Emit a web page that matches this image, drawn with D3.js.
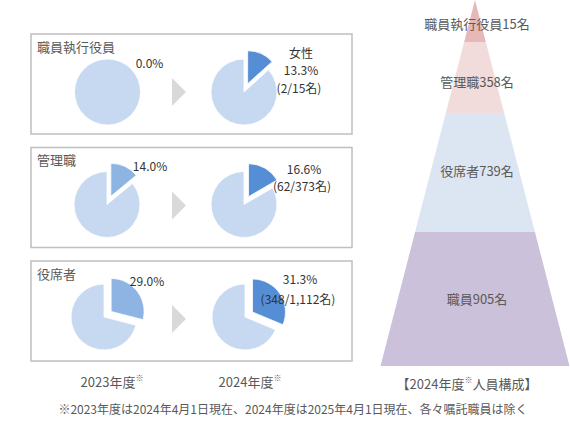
<!DOCTYPE html>
<html><head><meta charset="utf-8">
<script src="https://cdn.jsdelivr.net/npm/d3@7"></script>
<style>
html,body{margin:0;padding:0;background:#fff;}
svg{display:block;font-family:"Noto Sans CJK JP","Noto Sans",sans-serif;}
</style></head>
<body>
<svg id="chart" width="570" height="422"></svg>
<script>
// ---- data ----
const categories = ["職員執行役員", "管理職", "役席者"];
const years = ["2023年度", "2024年度"];
const share2023 = [0.0, 14.0, 29.0];
const share2024 = [13.3, 16.6, 31.3];
const women2024 = [2, 62, 348];
const total2024 = [15, 373, 1112];
const pyramidLabels = ["職員執行役員", "管理職", "役席者", "職員"];
const pyramidCounts = [15, 358, 739, 905];
const footnote = "※2023年度は2024年4月1日現在、2024年度は2025年4月1日現在、各々嘱託職員は除く";
const pyramidTitle = "【2024年度※人員構成】";

// ---- layout ----
const svg = d3.select("#chart");
const textCol = "#595959";
const mainCol = "#c6d9f1";
const sliceCol = ["#8eb4e3", "#558ed5"];
const layerCol = ["#e6b9b8", "#f2dcdb", "#dce6f2", "#ccc1da"];

const rowY = d3.scaleBand().domain(categories).range([34, 34 + 3 * 113.5 - 13.5]).paddingInner(13.5 / 113.5);
const colX = d3.scalePoint().domain(years).range([106, 244]);
const R = 33, explode = 9;
const pieCY = [58, 57, 56];          // pie centre offset within each box
const pieDX = [[1.5, 0], [1, 0], [-2, 1]];

// label offsets relative to pie centre
const lab2023 = [[42, -30], [43, -39], [43, -37]];
const lab2024 = [[57, [-23, -5]], [60, [-36, -19]], [55, [-39, -19]]];

const pie = d3.pie().sort(null).value(d => d);
const arc = d3.arc().innerRadius(0).outerRadius(R);
const fmt = d3.format(".1f");
const fmtN = d3.format(",");

categories.forEach((cat, i) => {
  const top = rowY(cat), h = rowY.bandwidth();
  const g = svg.append("g");
  g.append("rect").attr("x", 31).attr("y", top).attr("width", 321).attr("height", h)
    .attr("fill", "#fff").attr("stroke", "#bfbfbf").attr("stroke-width", 1.5);
  g.append("text").attr("x", 37).attr("y", top + 12).attr("dominant-baseline", "central")
    .attr("font-size", 13).attr("fill", textCol).text(cat);

  // arrow
  const ay = top + 58, ax = 172;
  g.append("path").attr("d", `M${ax},${ay - 14}L${ax + 14},${ay}L${ax},${ay + 14}Z`).attr("fill", "#d9d9d9");

  [share2023[i], share2024[i]].forEach((s, j) => {
    const cx = colX(years[j]) + pieDX[i][j], cy = top + pieCY[i];
    const pg = g.append("g").attr("transform", `translate(${cx},${cy})`);
    const arcs = pie([s, 100 - s]);
    arcs.forEach((a, k) => {
      if (a.endAngle - a.startAngle <= 0) return;
      let tx = 0, ty = 0;
      if (k === 0) {
        const m = (a.startAngle + a.endAngle) / 2;
        tx = Math.sin(m) * explode; ty = -Math.cos(m) * explode;
      }
      pg.append("path").attr("d", arc(a)).attr("transform", `translate(${tx},${ty})`)
        .attr("fill", k === 0 ? sliceCol[j] : mainCol)
        .attr("stroke", "#fff").attr("stroke-width", 0.8);
    });
    if (j === 0) {
      g.append("text").attr("x", cx + lab2023[i][0]).attr("y", cy + lab2023[i][1])
        .attr("text-anchor", "middle").attr("dominant-baseline", "central")
        .attr("font-size", 12).attr("fill", "#333").text(fmt(s) + "%");
    } else {
      const lx = cx + lab2024[i][0];
      const [d1, d2] = lab2024[i][1];
      if (i === 0) {
        g.append("text").attr("x", lx).attr("y", cy + d1 - 17).attr("text-anchor", "middle")
          .attr("dominant-baseline", "central").attr("font-size", 12).attr("fill", "#333").text("女性");
      }
      g.append("text").attr("x", lx).attr("y", cy + d1).attr("text-anchor", "middle")
        .attr("dominant-baseline", "central").attr("font-size", 12).attr("fill", "#333").text(fmt(s) + "%");
      g.append("text").attr("x", lx - 2).attr("y", cy + d2).attr("text-anchor", "middle")
        .attr("dominant-baseline", "central").attr("font-size", 12).attr("fill", "#333")
        .text("(" + women2024[i] + "/" + fmtN(total2024[i]) + "名)");
    }
  });
});

// year labels
years.forEach(y => {
  const t = svg.append("text").attr("x", colX(y) + 6).attr("y", 381).attr("text-anchor", "middle")
    .attr("dominant-baseline", "central").attr("font-size", 13).attr("fill", textCol);
  t.append("tspan").text(y);
  t.append("tspan").attr("font-size", 8).attr("dy", -4).text("※");
});

// footnote
svg.append("text").attr("x", 293).attr("y", 408).attr("text-anchor", "middle")
  .attr("dominant-baseline", "central").attr("font-size", 12).attr("fill", textCol).text(footnote);

// ---- pyramid ----
const apexX = 475, apexY = 0, baseY = 366, halfBase = 94.5;
const bounds = [0, 42, 113, 232, 366];  // layer boundaries (px)
const yS = d3.scaleLinear().domain([apexY, baseY]).range([0, halfBase]);
const pg = svg.append("g");
pyramidLabels.forEach((lab, i) => {
  const y0 = bounds[i], y1 = bounds[i + 1];
  const w0 = yS(y0), w1 = yS(y1);
  const pts = [[apexX - w0, y0], [apexX + w0, y0], [apexX + w1, y1], [apexX - w1, y1]];
  pg.append("path").attr("d", d3.line()(pts) + "Z").attr("fill", layerCol[i]);
});
const labY = [23, 81, 170, 298];
pyramidLabels.forEach((lab, i) => {
  pg.append("text").attr("x", 477).attr("y", labY[i]).attr("text-anchor", "middle")
    .attr("dominant-baseline", "central").attr("font-size", 13).attr("fill", textCol)
    .text(lab + pyramidCounts[i] + "名");
});
const pt = pg.append("text").attr("x", 467).attr("y", 383).attr("text-anchor", "middle")
  .attr("dominant-baseline", "central").attr("font-size", 13).attr("fill", textCol);
const parts = pyramidTitle.split("※");
pt.append("tspan").text(parts[0]);
pt.append("tspan").attr("font-size", 8).attr("dy", -4).text("※");
pt.append("tspan").attr("dy", 4).text(parts[1]);
</script>
</body></html>
